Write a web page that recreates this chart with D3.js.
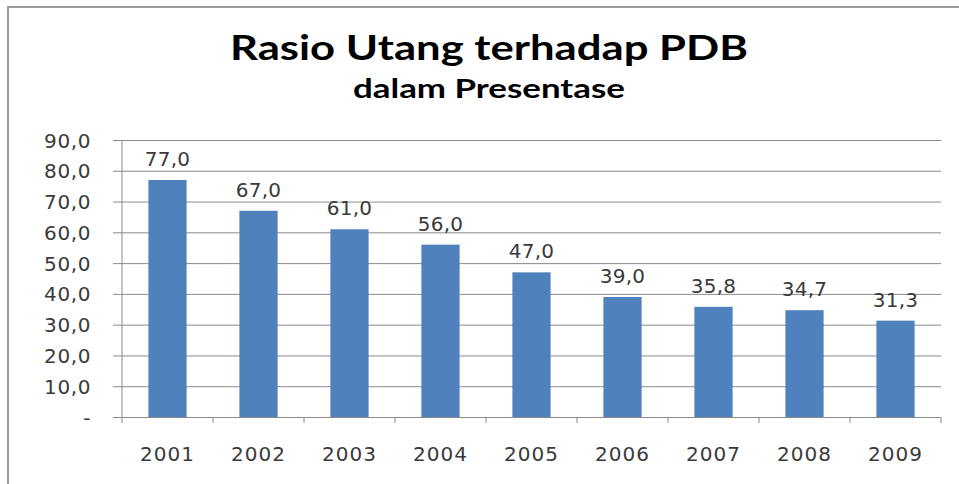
<!DOCTYPE html>
<html>
<head>
<meta charset="utf-8">
<script src="https://cdn.jsdelivr.net/npm/d3@7"></script>
<style>
  body { margin: 0; background: #fff; }
  svg { display: block; }
  .num { font-family: "DejaVu Sans", Verdana, sans-serif; fill: #3a3a3a; }
  .title { font-family: Lato, "Open Sans", sans-serif; font-weight: bold; fill: #000; }
</style>
</head>
<body>
<svg id="chart" width="959" height="484"></svg>
<script>
// data
const years = ["2001", "2002", "2003", "2004", "2005", "2006", "2007", "2008", "2009"];
const ratio = [77.0, 67.0, 61.0, 56.0, 47.0, 39.0, 35.8, 34.7, 31.3];
const yTicks = [0, 10, 20, 30, 40, 50, 60, 70, 80, 90];

const W = 959, H = 484;
const plotL = 122, plotR = 941, plotT = 140, plotB = 417;

const svg = d3.select("#chart");

// frame
svg.append("rect")
    .attr("x", 8).attr("y", 7)
    .attr("width", W + 10).attr("height", H - 4)
    .attr("fill", "none")
    .attr("stroke", "#9a9a9a")
    .attr("stroke-width", 2);

// titles
svg.append("text")
    .attr("class", "title")
    .attr("x", 489).attr("y", 60)
    .attr("text-anchor", "middle")
    .attr("font-size", 34)
    .attr("textLength", 518)
    .attr("lengthAdjust", "spacingAndGlyphs")
    .text("Rasio Utang terhadap PDB");
svg.append("text")
    .attr("class", "title")
    .attr("x", 489).attr("y", 98)
    .attr("text-anchor", "middle")
    .attr("font-size", 26)
    .attr("textLength", 272)
    .attr("lengthAdjust", "spacingAndGlyphs")
    .text("dalam Presentase");

const x = d3.scaleBand()
    .domain(years)
    .range([plotL, plotR])
    .paddingInner(0.58)
    .paddingOuter(0.29);

const y = d3.scaleLinear()
    .domain([0, 90])
    .range([plotB, plotT]);

const fmt = v => v === 0 ? "-" : v.toFixed(1).replace(".", ",");

// gridlines + y labels
const yAxis = d3.axisLeft(y)
    .tickValues(yTicks)
    .tickSize(-(plotR - plotL + 9))
    .tickPadding(0)
    .tickFormat(fmt);
const gy = svg.append("g")
    .attr("transform", `translate(${plotL - 9},0)`)
    .call(yAxis);
gy.select(".domain").remove();
gy.selectAll(".tick line").attr("stroke", "#8a8a8a").attr("stroke-width", 1);
gy.selectAll(".tick text")
    .attr("class", "num")
    .attr("x", -22)
    .attr("dy", "0.35em")
    .attr("font-size", 20)
    .attr("letter-spacing", 0.6);
gy.attr("font-family", null).attr("font-size", null);

// vertical axis line
svg.append("line")
    .attr("x1", plotL).attr("x2", plotL)
    .attr("y1", plotT).attr("y2", plotB + 6)
    .attr("stroke", "#8a8a8a");

// category ticks
const bounds = years.map(d => x(d) - x.step() * x.paddingInner() / 2).concat([plotR]);
svg.append("g").selectAll("line")
    .data(bounds.slice(1))
    .join("line")
    .attr("x1", d => d).attr("x2", d => d)
    .attr("y1", plotB).attr("y2", plotB + 6)
    .attr("stroke", "#8a8a8a");

// bars
svg.append("g").selectAll("rect")
    .data(ratio)
    .join("rect")
    .attr("x", (d, i) => x(years[i]))
    .attr("width", x.bandwidth())
    .attr("y", d => y(d))
    .attr("height", d => plotB - y(d))
    .attr("fill", "#4f81bd");

// value labels
svg.append("g").selectAll("text")
    .data(ratio)
    .join("text")
    .attr("class", "num")
    .attr("x", (d, i) => x(years[i]) + x.bandwidth() / 2)
    .attr("y", d => y(d) - 14)
    .attr("text-anchor", "middle")
    .attr("font-size", 20)
    .attr("letter-spacing", 0.3)
    .text(d => fmt(d));

// year labels
svg.append("g").selectAll("text")
    .data(years)
    .join("text")
    .attr("class", "num")
    .attr("x", d => x(d) + x.bandwidth() / 2)
    .attr("y", 461)
    .attr("text-anchor", "middle")
    .attr("font-size", 20)
    .attr("letter-spacing", 1)
    .text(d => d);
</script>
</body>
</html>
